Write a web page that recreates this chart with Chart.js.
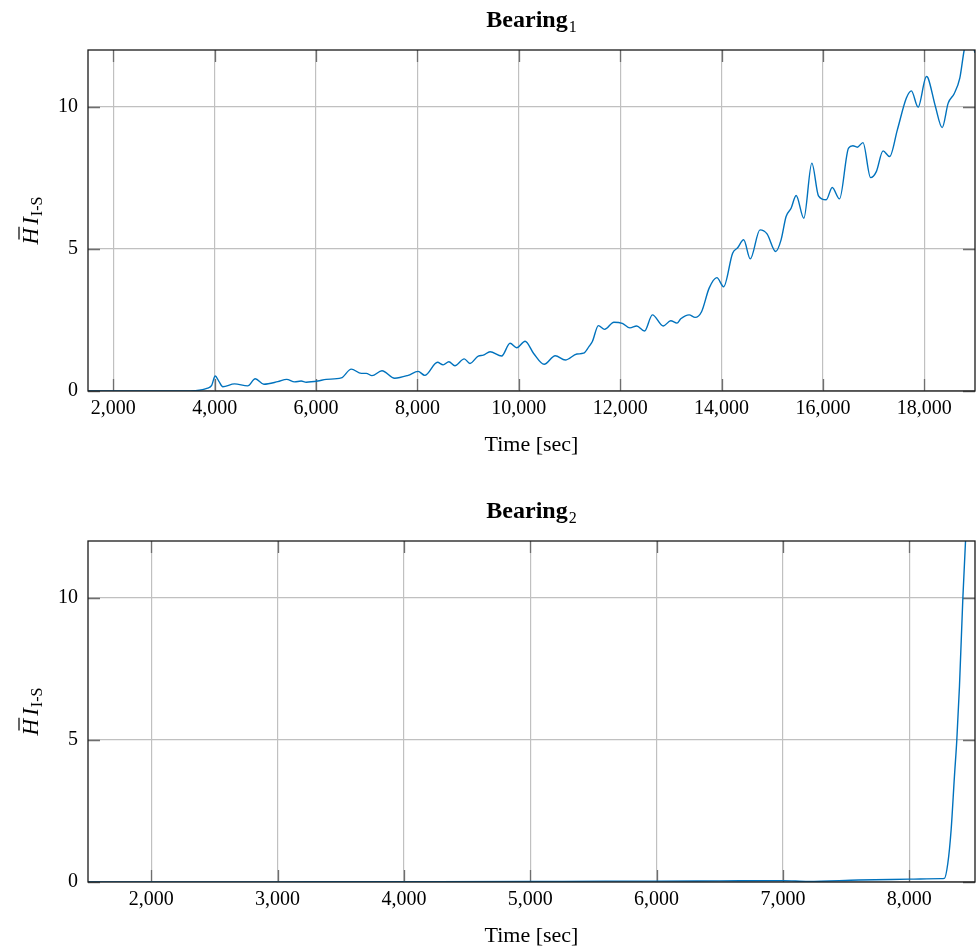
<!DOCTYPE html>
<html><head><meta charset="utf-8">
<script src="https://cdn.jsdelivr.net/npm/chart.js@4.4.1/dist/chart.umd.min.js"></script>
<style>
html,body{margin:0;padding:0;background:#fff;}
#w1{position:absolute;left:0;top:0;width:978px;height:491px;}
#w2{position:absolute;left:0;top:491px;width:978px;height:461px;}
</style></head><body>
<div id="w1"><canvas id="c1"></canvas></div>
<div id="w2"><canvas id="c2"></canvas></div>
<script>
// ---------- data ----------
const bearing1Time = [1500,2000,2500,3000,3400,3600,3860,3940,4010,4080,4160,4390,4650,4800,4970,5245,5420,5575,5705,5805,6035,6200,6496,6694,6892,6990,7103,7300,7551,7815,8013,8145,8395,8507,8620,8739,8923,9036,9200,9299,9432,9661,9827,9958,10124,10289,10500,10718,10916,11145,11277,11383,11451,11570,11692,11876,12041,12192,12325,12480,12635,12850,12997,13120,13195,13360,13478,13605,13755,13907,14040,14218,14317,14436,14566,14758,14897,15068,15174,15273,15372,15471,15623,15781,15912,16064,16183,16327,16505,16592,16677,16790,16940,17053,17186,17316,17468,17646,17745,17877,18042,18075,18219,18352,18471,18589,18700,18787,18880,19000];
const bearing1HI = [0,0,0,0,0,0.01,0.1,0.2,0.53,0.35,0.15,0.25,0.18,0.43,0.24,0.33,0.41,0.32,0.35,0.31,0.35,0.41,0.46,0.77,0.62,0.62,0.54,0.71,0.45,0.55,0.69,0.55,1.01,0.92,1.03,0.89,1.13,0.97,1.23,1.26,1.38,1.23,1.68,1.52,1.75,1.33,0.94,1.24,1.09,1.30,1.33,1.56,1.74,2.30,2.17,2.42,2.38,2.22,2.29,2.11,2.68,2.29,2.47,2.39,2.54,2.68,2.59,2.79,3.62,3.99,3.67,4.85,5.04,5.32,4.65,5.67,5.53,4.91,5.32,6.14,6.43,6.88,6.08,8.02,6.87,6.73,7.16,6.76,8.55,8.63,8.58,8.74,7.51,7.72,8.45,8.25,9.19,10.31,10.56,9.99,11.07,11.01,10.01,9.27,10.13,10.46,11.01,12.0,12.6,11.9];
const bearing2Time = [1500,2000,3000,3500,4000,5000,5600,6000,6500,7000,7200,7600,8000,8250,8278,8305,8331,8357,8376,8397,8424,8445,8460];
const bearing2HI = [0,0.005,0.005,0.01,0.01,0.015,0.03,0.03,0.04,0.05,0.02,0.07,0.1,0.12,0.13,0.66,1.83,3.7,5.0,6.88,10.0,12.0,13.0];
const bearing1XTicks = [2000,4000,6000,8000,10000,12000,14000,16000,18000];
const bearing2XTicks = [2000,3000,4000,5000,6000,7000,8000];
const yTicks = [0,5,10];
const titleMain = 'Bearing';
const titleSubs = ['1','2'];
const xAxisLabel = 'Time [sec]';

const SERIF = '"Liberation Serif", "Times New Roman", serif';

const decor = {
  id: 'decor',
  beforeDatasetsDraw(chart) {
    const {ctx, chartArea: a, scales: {x, y}} = chart;
    ctx.save();
    ctx.strokeStyle = '#6e6e6e';
    ctx.lineWidth = 1.3;
    ctx.beginPath();
    x.ticks.forEach(t => {
      const px = Math.round(x.getPixelForValue(t.value)) + 0.5;
      ctx.moveTo(px, a.top); ctx.lineTo(px, a.top + 12);
      ctx.moveTo(px, a.bottom); ctx.lineTo(px, a.bottom - 12);
    });
    y.ticks.forEach(t => {
      const py = Math.round(y.getPixelForValue(t.value)) + 0.5;
      ctx.moveTo(a.left, py); ctx.lineTo(a.left + 12, py);
      ctx.moveTo(a.right, py); ctx.lineTo(a.right - 12, py);
    });
    ctx.stroke();
    ctx.restore();
  },
  afterDraw(chart, args, opts) {
    const {ctx, chartArea: a} = chart;
    ctx.save();
    ctx.strokeStyle = '#1a1a1a';
    ctx.lineWidth = 1.3;
    ctx.strokeRect(a.left, a.top, a.right - a.left, a.bottom - a.top);
    // title with subscript
    ctx.fillStyle = '#000';
    ctx.textAlign = 'left';
    ctx.textBaseline = 'alphabetic';
    ctx.font = 'bold 24px ' + SERIF;
    const w1 = ctx.measureText(titleMain).width;
    ctx.font = '16px ' + SERIF;
    const w2 = ctx.measureText(opts.sub).width;
    const cx = (a.left + a.right) / 2;
    const sx = cx - (w1 + 1 + w2) / 2;
    const by = a.top - 23;
    ctx.font = 'bold 24px ' + SERIF;
    ctx.fillText(titleMain, sx, by);
    ctx.font = '16px ' + SERIF;
    ctx.fillText(opts.sub, sx + w1 + 1, by + 5);
    // y-axis label  H-bar I_{I-S}
    ctx.translate(38, (a.top + a.bottom) / 2);
    ctx.rotate(-Math.PI / 2);
    ctx.font = 'italic 23px ' + SERIF;
    const wH = ctx.measureText('H').width;
    const wI = ctx.measureText('I').width;
    ctx.font = '16px ' + SERIF;
    const wS = ctx.measureText('I-S').width;
    const total = wH + 3 + wI + 1 + wS;
    const x0 = -total / 2;
    ctx.font = 'italic 23px ' + SERIF;
    ctx.fillText('H', x0, 0);
    ctx.lineWidth = 1.2;
    ctx.strokeStyle = '#000';
    ctx.beginPath();
    ctx.moveTo(x0 + 5, -19); ctx.lineTo(x0 + wH + 1, -19);
    ctx.stroke();
    ctx.fillText('I', x0 + wH + 3, 0);
    ctx.font = '16px ' + SERIF;
    ctx.fillText('I-S', x0 + wH + 3 + wI + 1, 4);
    ctx.restore();
  }
};

function makeChart(id, times, vals, xMin, xMax, xTicks, sub, canvasH, titlePad) {
  const pts = times.map((t, i) => ({x: t, y: vals[i]}));
  return new Chart(document.getElementById(id), {
    type: 'line',
    data: {datasets: [{
      data: pts,
      borderColor: '#0072BD',
      borderWidth: 1.4,
      pointRadius: 0,
      fill: false,
      cubicInterpolationMode: 'monotone'
    }]},
    options: {
      responsive: true,
      maintainAspectRatio: false,
      animation: false,
      devicePixelRatio: 1,
      layout: {padding: {top: 50, right: 3, bottom: 0, left: 0}},
      plugins: {legend: {display: false}, tooltip: {enabled: false}, decor: {sub: sub}},
      scales: {
        x: {
          type: 'linear',
          min: xMin, max: xMax,
          afterBuildTicks: s => { s.ticks = xTicks.map(v => ({value: v})); },
          afterFit: s => { s.height = canvasH - 391; },
          grid: {color: '#c0c0c0', lineWidth: 1.2, drawTicks: false},
          border: {display: false},
          ticks: {
            color: '#000', padding: 6,
            font: {family: SERIF, size: 20},
            callback: v => Number(v).toLocaleString('en-US')
          },
          title: {
            display: true, text: xAxisLabel, color: '#000',
            font: {family: SERIF, size: 22},
            padding: {top: 0, bottom: titlePad}
          }
        },
        y: {
          min: 0, max: 12,
          afterBuildTicks: s => { s.ticks = yTicks.map(v => ({value: v})); },
          afterFit: s => { s.width = 88; },
          grid: {color: '#c0c0c0', lineWidth: 1.2, drawTicks: false},
          border: {display: false},
          ticks: {color: '#000', padding: 10, font: {family: SERIF, size: 20}}
        }
      }
    },
    plugins: [decor]
  });
}

makeChart('c1', bearing1Time, bearing1HI, 1500, 19000, bearing1XTicks, titleSubs[0], 491, 33);
makeChart('c2', bearing2Time, bearing2HI, 1500, 8520, bearing2XTicks, titleSubs[1], 461, 3);
</script>
</body></html>
